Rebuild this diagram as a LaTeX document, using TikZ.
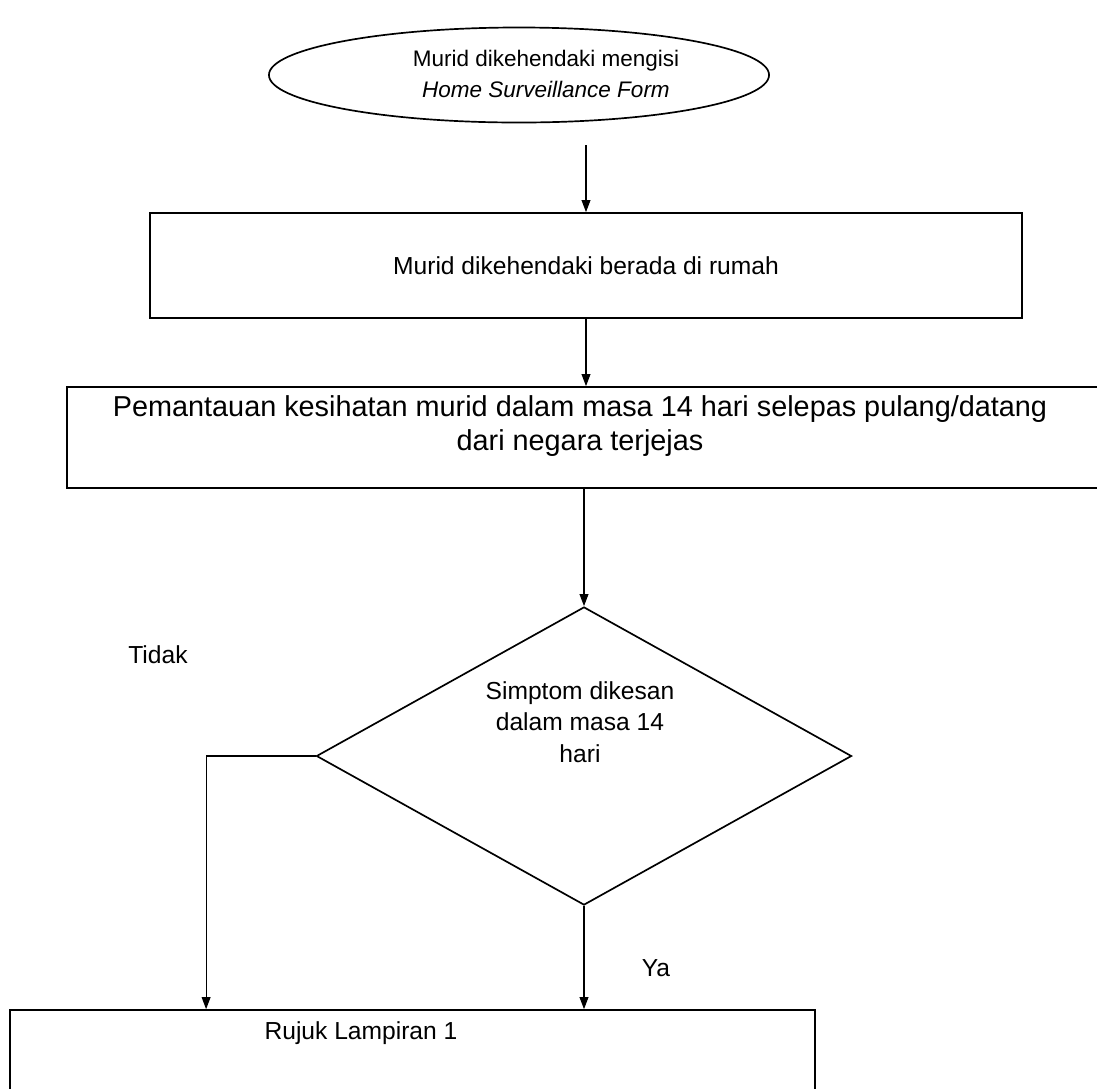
\documentclass[tikz,border=0pt]{standalone}
\usepackage{fontspec}
\setmainfont{Liberation Sans}
\usetikzlibrary{shapes.geometric,positioning,arrows.meta}

\begin{document}
\begin{tikzpicture}[x=0.025cm,y=-0.025cm,
	every node/.style={font=\fontsize{17.5}{22.5}\selectfont},
	boxnode/.style={rectangle, draw=black, line width=1.2pt, inner sep=0pt},
	ovalnode/.style={ellipse, draw=black, line width=1.2pt, inner sep=0pt},
	decnode/.style={diamond, draw=black, line width=1.2pt, inner sep=0pt},
	arr/.style={-{Triangle[length=3mm,width=2.2mm]}, line width=0.8pt}]
	\useasboundingbox (0,0) rectangle (1097,1088);

	\node[ovalnode, minimum width=12.5cm, minimum height=2.375cm] (start) at (519,75) {};
	\node[align=center, font=\fontsize{16}{22.5}\selectfont] (startt) at (546,74)
		{Murid dikehendaki mengisi\\ \textit{Home Surveillance Form}};
	\node[boxnode, minimum width=21.8cm, minimum height=2.625cm] (r1) at (586,265.5)
		{Murid dikehendaki berada di rumah};
	\node[boxnode, minimum width=26.575cm, minimum height=2.525cm] (r2) at (598.5,437.5) {};
	\node[align=center, font=\fontsize{20.5}{24}\selectfont] (r2t) at (580,426)
		{Pemantauan kesihatan murid dalam masa 14 hari selepas pulang/datang\\ dari negara terjejas};
	\node[decnode, minimum width=13.375cm, minimum height=7.45cm] (dec) at (584,756) {};
	\node[align=center] (dect) at (580,722) {Simptom dikesan\\ dalam masa 14\\ hari};
	\node (tidak) at (158,655) {Tidak};
	\node (ya) at (656,968) {Ya};
	\node[boxnode, minimum width=20.125cm, minimum height=2.5cm] (r3) at (412.5,1060) {};
	\node (r3t) at (361,1033) {Rujuk Lampiran 1};

	\draw[arr, shorten <=0.55cm] (start.south -| r1.north) -- (r1.north);
	\draw[arr] (r1.south) -- (r1.south |- r2.north);
	\draw[arr] (r2.south -| dec.north) -- (dec.north);
	\draw[arr] (dec.west) -| ([xshift=4.925cm]r3.north west);
	\draw[arr] (dec.south) -- (dec.south |- r3.north);
\end{tikzpicture}
\end{document}
